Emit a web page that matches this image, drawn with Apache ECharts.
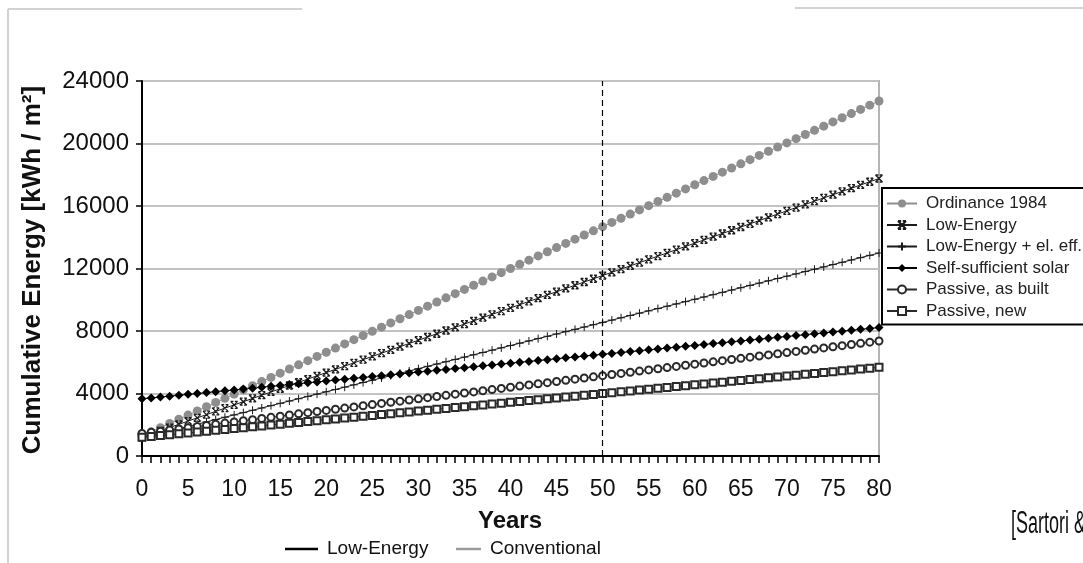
<!DOCTYPE html>
<html>
<head>
<meta charset="utf-8">
<script src="https://cdn.jsdelivr.net/npm/echarts@6/dist/echarts.min.js"></script>
<style>html,body{margin:0;padding:0;background:#fff;}#c{width:1083px;height:563px;}</style>
</head>
<body>
<div id="c"></div>
<script>
const years = [0,1,2,3,4,5,6,7,8,9,10,11,12,13,14,15,16,17,18,19,20,21,22,23,24,25,26,27,28,29,30,31,32,33,34,35,36,37,38,39,40,41,42,43,44,45,46,47,48,49,50,51,52,53,54,55,56,57,58,59,60,61,62,63,64,65,66,67,68,69,70,71,72,73,74,75,76,77,78,79,80];
const xTicks = [0,5,10,15,20,25,30,35,40,45,50,55,60,65,70,75,80];
const yTicks = [0,4000,8000,12000,16000,20000,24000];
const seriesNames = ["Ordinance 1984","Low-Energy","Low-Energy + el. eff.","Self-sufficient solar","Passive, as built","Passive, new"];
const ordinance1984 = [1280,1548,1816,2084,2352,2620,2888,3156,3424,3692,3960,4228,4496,4764,5032,5300,5568,5836,6104,6372,6640,6908,7176,7444,7712,7980,8248,8516,8784,9052,9320,9588,9856,10124,10392,10660,10928,11196,11464,11732,12000,12268,12536,12804,13072,13340,13608,13876,14144,14412,14680,14948,15216,15484,15752,16020,16288,16556,16824,17092,17360,17628,17896,18164,18432,18700,18968,19236,19504,19772,20040,20308,20576,20844,21112,21380,21648,21916,22184,22452,22720];
const lowEnergy = [1200,1407,1614,1821,2028,2235,2442,2649,2856,3063,3270,3477,3684,3891,4098,4305,4512,4719,4926,5133,5340,5547,5754,5961,6168,6375,6582,6789,6996,7203,7410,7617,7824,8031,8238,8445,8652,8859,9066,9273,9480,9687,9894,10101,10308,10515,10722,10929,11136,11343,11550,11757,11964,12171,12378,12585,12792,12999,13206,13413,13620,13827,14034,14241,14448,14655,14862,15069,15276,15483,15690,15897,16104,16311,16518,16725,16932,17139,17346,17553,17760];
const lowEnergyElEff = [1150,1298,1446,1594,1742,1890,2038,2186,2334,2482,2630,2778,2926,3074,3222,3370,3518,3666,3814,3962,4110,4258,4406,4554,4702,4850,4998,5146,5294,5442,5590,5738,5886,6034,6182,6330,6478,6626,6774,6922,7070,7218,7366,7514,7662,7810,7958,8106,8254,8402,8550,8698,8846,8994,9142,9290,9438,9586,9734,9882,10030,10178,10326,10474,10622,10770,10918,11066,11214,11362,11510,11658,11806,11954,12102,12250,12398,12546,12694,12842,12990];
const selfSufficientSolar = [3660,3717,3774,3831,3888,3945,4002,4059,4116,4173,4230,4287,4344,4401,4458,4515,4572,4629,4686,4743,4800,4857,4914,4971,5028,5085,5142,5199,5256,5313,5370,5427,5484,5541,5598,5655,5712,5769,5826,5883,5940,5997,6054,6111,6168,6225,6282,6339,6396,6453,6510,6567,6624,6681,6738,6795,6852,6909,6966,7023,7080,7137,7194,7251,7308,7365,7422,7479,7536,7593,7650,7707,7764,7821,7878,7935,7992,8049,8106,8163,8220];
const passiveAsBuilt = [1440,1514,1588,1662,1736,1810,1884,1958,2032,2106,2180,2254,2328,2402,2476,2550,2624,2698,2772,2846,2920,2994,3068,3142,3216,3290,3364,3438,3512,3586,3660,3734,3808,3882,3956,4030,4104,4178,4252,4326,4400,4474,4548,4622,4696,4770,4844,4918,4992,5066,5140,5214,5288,5362,5436,5510,5584,5658,5732,5806,5880,5954,6028,6102,6176,6250,6324,6398,6472,6546,6620,6694,6768,6842,6916,6990,7064,7138,7212,7286,7360];
const passiveNew = [1200,1256,1312,1368,1424,1480,1536,1592,1648,1704,1760,1816,1872,1928,1984,2040,2096,2152,2208,2264,2320,2376,2432,2488,2544,2600,2656,2712,2768,2824,2880,2936,2992,3048,3104,3160,3216,3272,3328,3384,3440,3496,3552,3608,3664,3720,3776,3832,3888,3944,4000,4056,4112,4168,4224,4280,4336,4392,4448,4504,4560,4616,4672,4728,4784,4840,4896,4952,5008,5064,5120,5176,5232,5288,5344,5400,5456,5512,5568,5624,5680];
const markerYear = 50;

const allValues = [ordinance1984, lowEnergy, lowEnergyElEff, selfSufficientSolar, passiveAsBuilt, passiveNew];
const styles = [
  {color:'#8e8e8e', symbol:'circle', size:9, border:0},
  {color:'#1a1a1a', symbol:'path://M0,0L10,10M10,0L0,10M0,0L4,0M6,0L10,0M0,10L4,10M6,10L10,10', size:7, border:1.3},
  {color:'#1a1a1a', symbol:'path://M5,0L5,10M0,5L10,5', size:8, border:1},
  {color:'#000000', symbol:'diamond', size:9, border:0},
  {color:'#2a2a2a', symbol:'emptyCircle', size:7, border:1.3},
  {color:'#2a2a2a', symbol:'emptyRect', size:7, border:1.3}
];

const series = seriesNames.map((name, k) => {
  const st = styles[k];
  const s = {
    name: name,
    type: 'line',
    data: years.map((y, i) => [y, allValues[k][i]]),
    symbol: st.symbol,
    symbolSize: st.size,
    showSymbol: true,
    showAllSymbol: true,
    lineStyle: {color: st.color, width: 1},
    itemStyle: {color: st.color, borderColor: st.color, borderWidth: st.border},
    emphasis: {disabled: true},
    animation: false
  };
  if (k === 0) {
    s.markLine = {
      silent: true,
      symbol: ['none','none'],
      label: {show:false},
      lineStyle: {color:'#000', type:[6,4], width:1.2},
      data: [{xAxis: markerYear}],
      animation: false
    };
  }
  return s;
});

const chart = echarts.init(document.getElementById('c'), null, {renderer:'canvas'});
chart.setOption({
  backgroundColor: '#ffffff',
  animation: false,
  textStyle: {fontFamily: '"Liberation Sans", Arial, sans-serif'},
  grid: {left:142, top:81, width:737, height:375, show:true, borderColor:'#b4b4b4', borderWidth:2, containLabel:false, outerBoundsMode:'none'},
  xAxis: {
    type:'value', min:0, max:80, interval:5,
    axisLine:{show:true, onZero:false, lineStyle:{color:'#000', width:2}},
    axisTick:{show:true, inside:false, length:7, lineStyle:{color:'#000', width:1.5}},
    minorTick:{show:true, splitNumber:5, length:7, lineStyle:{color:'#000', width:1.5}},
    splitLine:{show:false},
    axisLabel:{color:'#111', fontSize:23, margin:22, formatter: v => xTicks.includes(v) ? String(v) : ''}
  },
  yAxis: {
    type:'value', min:0, max:24000, interval:4000,
    axisLine:{show:true, onZero:false, lineStyle:{color:'#000', width:2}},
    axisTick:{show:true, inside:false, length:6, lineStyle:{color:'#000', width:1.5}},
    splitLine:{show:true, lineStyle:{color:'#c2c2c2', width:2}},
    axisLabel:{color:'#111', fontSize:24, margin:13, formatter: v => yTicks.includes(v) ? String(v) : ''}
  },
  legend: {
    show:true, orient:'vertical', left:882, top:188,
    data: seriesNames,
    itemWidth:30, itemHeight:10, itemGap:4.5,
    padding:[7,8,5,4],
    borderColor:'#000', borderWidth:2, backgroundColor:'#fff',
    textStyle:{fontSize:17, color:'#222', padding:[0,0,0,4]},
    selectedMode:false
  },
  series: series,
  graphic: [
    {type:'line', shape:{x1:8, y1:9, x2:302, y2:9}, style:{stroke:'#d2d2d2', lineWidth:2}, silent:true},
    {type:'line', shape:{x1:795, y1:8, x2:1083, y2:8}, style:{stroke:'#d2d2d2', lineWidth:2}, silent:true},
    {type:'line', shape:{x1:8, y1:9, x2:8, y2:563}, style:{stroke:'#d2d2d2', lineWidth:2}, silent:true},
    {type:'text', x:33, y:270, rotation:Math.PI/2, silent:true,
      style:{text:'Cumulative Energy [kWh / m²]', fontSize:26, fontWeight:'bold', fill:'#111', align:'center', verticalAlign:'middle', fontFamily:'"Liberation Sans", Arial, sans-serif'}},
    {type:'text', x:510, y:521, silent:true,
      style:{text:'Years', fontSize:24, fontWeight:'bold', fill:'#111', align:'center', verticalAlign:'middle', fontFamily:'"Liberation Sans", Arial, sans-serif'}},
    {type:'line', shape:{x1:285, y1:549, x2:318, y2:549}, style:{stroke:'#000', lineWidth:2.5}, silent:true},
    {type:'text', x:327, y:549, silent:true,
      style:{text:'Low-Energy', fontSize:19, fill:'#111', align:'left', verticalAlign:'middle', fontFamily:'"Liberation Sans", Arial, sans-serif'}},
    {type:'line', shape:{x1:456, y1:549, x2:481, y2:549}, style:{stroke:'#9a9a9a', lineWidth:2.5}, silent:true},
    {type:'text', x:490, y:549, silent:true,
      style:{text:'Conventional', fontSize:19, fill:'#111', align:'left', verticalAlign:'middle', fontFamily:'"Liberation Sans", Arial, sans-serif'}},
    {type:'text', x:1011, y:524, scaleX:0.58, silent:true,
      style:{text:'[Sartori &', fontSize:31, fill:'#111', align:'left', verticalAlign:'middle', fontFamily:'"Liberation Sans", Arial, sans-serif'}}
  ]
});
</script>
</body>
</html>
